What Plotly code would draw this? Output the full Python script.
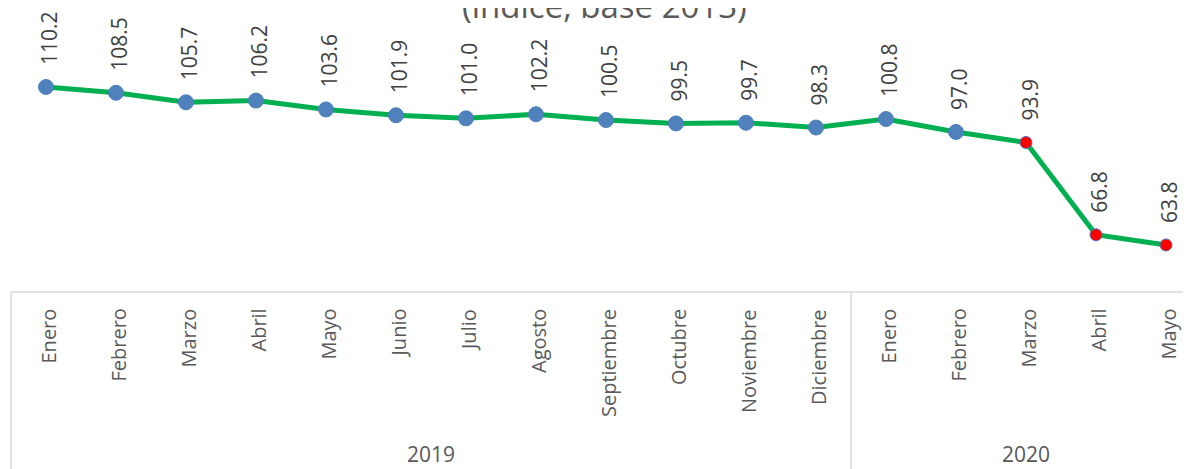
import plotly.graph_objects as go

months = ["Enero", "Febrero", "Marzo", "Abril", "Mayo", "Junio", "Julio", "Agosto",
          "Septiembre", "Octubre", "Noviembre", "Diciembre",
          "Enero", "Febrero", "Marzo", "Abril", "Mayo"]
years = ["2019"] * 12 + ["2020"] * 5
values = [110.2, 108.5, 105.7, 106.2, 103.6, 101.9, 101.0, 102.2, 100.5, 99.5, 99.7, 98.3,
          100.8, 97.0, 93.9, 66.8, 63.8]
highlight = [False] * 14 + [True] * 3
title_text = "(índice, base 2013)"

# the page body adds an 8px margin; work in window pixels and subtract it
OFF = 8
W, H = 1191 - OFF, 469 - OFF
ML = 11 - OFF
plot_h = 292 - OFF          # axis box top line in window px = 292
MB = H - plot_h
px_per_cat = 70.0
px_per_unit = 3.405
ymax = 110.2 + (87 - OFF) / px_per_unit
ymin = ymax - plot_h / px_per_unit

xs = list(range(len(values)))
FONT = "Open Sans"


def paper_y(win_px):
    return 1 - (win_px - OFF) / plot_h


fig = go.Figure()
fig.add_trace(go.Scatter(
    x=xs, y=values, mode="lines+markers",
    line=dict(color="#00B050", width=5),
    marker=dict(
        color=["#FF0000" if h else "#4F81BD" for h in highlight],
        size=[12 if h else 15 for h in highlight],
        opacity=1,
        line=dict(color=["#4F6FBD" if h else "#4F81BD" for h in highlight], width=1),
    ),
    opacity=1,
    cliponaxis=False,
    hoverinfo="skip",
))

annotations = []
# data labels
for x, v in zip(xs, values):
    annotations.append(dict(
        x=x, y=v, xref="x", yref="y", text=f"{v:.1f}", showarrow=False,
        textangle=-90, xanchor="center", yanchor="bottom", yshift=20, xshift=3,
        font=dict(family=FONT, size=21, color="#404040"),
    ))
# month labels
for x, m in zip(xs, months):
    annotations.append(dict(
        x=x, y=paper_y(307), xref="x", yref="paper", text=m, showarrow=False,
        textangle=-90, xanchor="center", yanchor="top", xshift=2,
        font=dict(family=FONT, size=20, color="#595959"),
    ))
# year labels
groups = []
for i, y in enumerate(years):
    if not groups or groups[-1][0] != y:
        groups.append([y, i, i])
    else:
        groups[-1][2] = i
group_bounds = []
for y, a, b in groups:
    left = a - 0.5
    right = b + 0.5
    group_bounds.append((left, right))
    annotations.append(dict(
        x=(left + right) / 2, y=paper_y(454), xref="x", yref="paper", text=y,
        showarrow=False, xanchor="center", yanchor="middle",
        font=dict(family=FONT, size=21, color="#595959"),
    ))
# title (cropped at top)
annotations.append(dict(
    x=(605 - 11) / (W - ML), y=1, xref="paper", yref="paper", text=title_text,
    showarrow=False, xanchor="center", yanchor="middle", yshift=3,
    font=dict(family=FONT, size=33, color="#595959"),
))

shapes = []
gridc = "#D9D9D9"
shapes.append(dict(type="line", xref="paper", yref="paper", x0=0, x1=1, y0=0, y1=0,
                   line=dict(color=gridc, width=1.5)))
bottom = -MB / plot_h
shapes.append(dict(type="line", xref="paper", yref="paper", x0=0, x1=0, y0=0, y1=bottom,
                   line=dict(color=gridc, width=1.5)))
for left, right in group_bounds[1:]:
    shapes.append(dict(type="line", xref="x", yref="paper", x0=left, x1=left, y0=0, y1=bottom,
                       line=dict(color=gridc, width=1.5)))

fig.update_layout(
    width=W, height=H,
    margin=dict(l=ML, r=0, t=0, b=MB, pad=0),
    paper_bgcolor="white", plot_bgcolor="white",
    showlegend=False,
    xaxis=dict(range=[-0.5, -0.5 + (W - ML) / px_per_cat], showticklabels=False,
               showgrid=False, zeroline=False, showline=False, ticks=""),
    yaxis=dict(range=[ymin, ymax], showticklabels=False, showgrid=False,
               zeroline=False, showline=False, ticks=""),
    annotations=annotations,
    shapes=shapes,
)

fig.write_html("out.html")
